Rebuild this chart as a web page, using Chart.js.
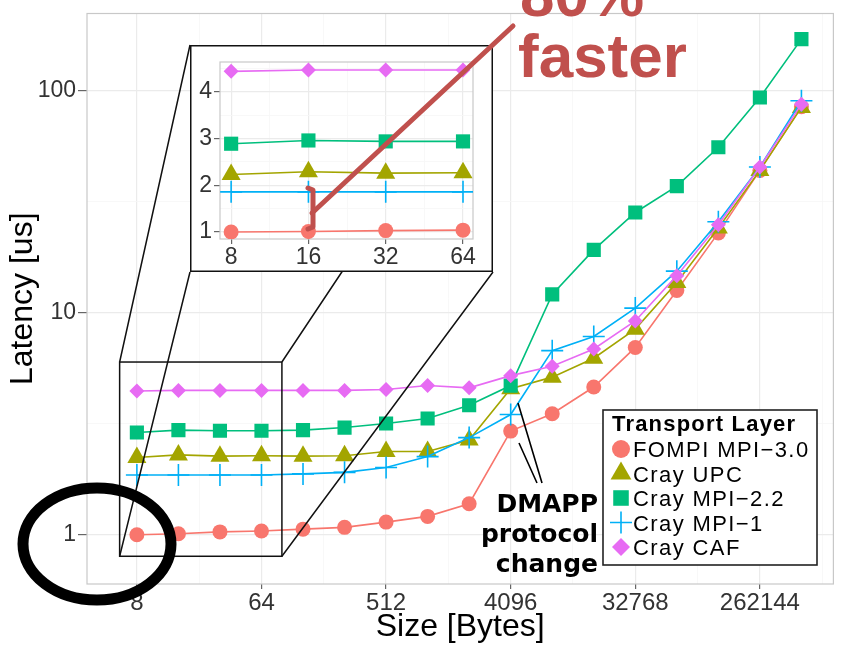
<!DOCTYPE html>
<html>
<head>
<meta charset="utf-8">
<script src="https://cdn.jsdelivr.net/npm/chart.js@4.4.1/dist/chart.umd.min.js"></script>
<style>
  html, body { margin: 0; padding: 0; background: #fff; }
  #wrap { position: relative; width: 846px; height: 650px; overflow: hidden; }
  #wrap canvas { position: absolute; }
  #main { left: 0; top: 0; }
  #inset { left: 190px; top: 45px; }
  #overlay { left: 0; top: 0; pointer-events: none; }
</style>
</head>
<body>
<div id="wrap">
  <canvas id="main" width="846" height="650"></canvas>
  <canvas id="inset" width="303" height="227"></canvas>
  <canvas id="overlay" width="846" height="650"></canvas>
</div>
<script>
// ---- data ----
const sizes = [8, 16, 32, 64, 128, 256, 512, 1024, 2048, 4096, 8192, 16384, 32768, 65536, 131072, 262144, 524288];

const fompi = [1.00, 1.01, 1.03, 1.04, 1.06, 1.08, 1.14, 1.21, 1.38, 2.93, 3.51, 4.63, 6.98, 12.6, 22.9, 43.8, 84.7];
const upc   = [2.23, 2.29, 2.26, 2.27, 2.26, 2.27, 2.37, 2.37, 2.67, 4.55, 5.13, 6.24, 8.44, 13.7, 24.1, 43.8, 84.2];
const mpi22 = [2.89, 2.96, 2.94, 2.94, 2.96, 3.04, 3.17, 3.34, 3.83, 4.70, 12.1, 19.2, 28.3, 37.2, 55.7, 93.3, 171];
const mpi1  = [1.86, 1.86, 1.86, 1.86, 1.88, 1.91, 2.01, 2.25, 2.74, 3.48, 6.75, 7.82, 10.5, 15.4, 25.7, 45.4, 90.2];
const caf   = [4.44, 4.47, 4.47, 4.47, 4.47, 4.47, 4.51, 4.70, 4.59, 5.21, 5.74, 6.87, 9.19, 14.7, 24.9, 45.4, 87.1];

const seriesNames  = ['FOMPI MPI\u22123.0', 'Cray UPC', 'Cray MPI\u22122.2', 'Cray MPI\u22121', 'Cray CAF'];
const seriesValues = [fompi, upc, mpi22, mpi1, caf];

const xTickLabels = [8, 64, 512, 4096, 32768, 262144];
const xMinorTicks = [22.63, 181.02, 1448.15, 11585.2, 92681.9, 741455];
const yTickLabels = [1, 10, 100];
const yMinorTicks = [3.162, 31.62];

const insetSizes = 4; // first four sizes (8..64)
const insetXTicks = [8, 16, 32, 64];
const insetXMinor = [11.31, 22.63, 45.25];
const insetYTicks = [1, 2, 3, 4];
const insetYMinor = [1.5, 2.5, 3.5, 4.5];

// ---- styles ----
const seriesColors = ['#F8766D', '#A3A500', '#00BF7D', '#00B0F6', '#E76BF3'];
const seriesShapes = ['circle', 'triangle', 'rect', 'cross', 'rectRot'];
const markerSize   = [7.5, 11, 10, 11, 7.5];
const legendSize   = [9, 12, 11, 11, 9];
const FONT = "'Liberation Sans', Arial, Helvetica, sans-serif";

function makeDatasets(n) {
    return seriesNames.map((name, i) => ({
        label: name,
        data: sizes.slice(0, n).map((s, j) => ({ x: s, y: seriesValues[i][j] })),
        borderColor: seriesColors[i],
        backgroundColor: seriesColors[i],
        borderWidth: 1.6,
        pointStyle: seriesShapes[i],
        pointRadius: markerSize[i],
        pointBackgroundColor: seriesColors[i],
        pointBorderColor: seriesColors[i],
        pointBorderWidth: seriesShapes[i] === 'cross' ? 1.6 : 0,
        tension: 0,
        order: 5 - i
    }));
}

function gridOpts(majors, tickLength) {
    return {
        color: c => majors.includes(c.tick && c.tick.value) ? '#ebebeb' : '#f6f6f6',
        lineWidth: c => majors.includes(c.tick && c.tick.value) ? 1.2 : 0.8,
        tickColor: c => majors.includes(c.tick && c.tick.value) ? '#666' : 'rgba(0,0,0,0)',
        tickWidth: 1.2,
        tickLength: tickLength,
        drawTicks: true
    };
}

function tickOpts(majors, size, padding) {
    return {
        autoSkip: false,
        maxRotation: 0,
        minRotation: 0,
        color: '#333',
        padding: padding,
        font: { family: FONT, size: size, lineHeight: 1 },
        callback: v => majors.includes(v) ? String(v) : ''
    };
}

const panelBorder = {
    id: 'panelBorder',
    beforeDatasetsDraw(chart) {
        const { ctx, chartArea: a } = chart;
        ctx.save();
        ctx.strokeStyle = '#c8c8c8';
        ctx.lineWidth = 1.2;
        ctx.strokeRect(a.left, a.top, a.right - a.left, a.bottom - a.top);
        ctx.restore();
    }
};

// zoom box, connector lines and legend on the main chart
const mainExtras = {
    id: 'mainExtras',
    afterDraw(chart) {
        const { ctx, scales: { x, y } } = chart;
        const bx0 = x.getPixelForValue(6), bx1 = x.getPixelForValue(90);
        const by0 = y.getPixelForValue(6.0), by1 = y.getPixelForValue(0.8);
        const ix0 = 190, iy0 = 45, ix1 = 493, iy1 = 272;
        ctx.save();
        ctx.strokeStyle = '#111';
        ctx.lineWidth = 1.5;
        ctx.strokeRect(bx0, by0, bx1 - bx0, by1 - by0);
        ctx.beginPath();
        ctx.moveTo(bx0, by0); ctx.lineTo(ix0, iy0);
        ctx.moveTo(bx0, by1); ctx.lineTo(ix0, iy1);
        ctx.moveTo(bx1, by0); ctx.lineTo(ix1, iy0);
        ctx.moveTo(bx1, by1); ctx.lineTo(ix1, iy1);
        ctx.stroke();

        // legend
        const lx = 603, ly = 410, lw = 214, lh = 155;
        ctx.fillStyle = '#fff';
        ctx.fillRect(lx, ly, lw, lh);
        ctx.strokeStyle = '#222';
        ctx.lineWidth = 1.6;
        ctx.strokeRect(lx, ly, lw, lh);
        ctx.fillStyle = '#000';
        ctx.textAlign = 'left';
        ctx.textBaseline = 'alphabetic';
        ctx.font = 'bold 22px ' + FONT;
        if ('letterSpacing' in ctx) ctx.letterSpacing = '1.2px';
        ctx.fillText('Transport Layer', 612, 431);
        ctx.font = '22px ' + FONT;
        if ('letterSpacing' in ctx) ctx.letterSpacing = '1.4px';
        seriesNames.forEach((name, i) => {
            const base = 457 + i * 24.5;
            ctx.fillStyle = '#000';
            ctx.fillText(name, 633, base);
            ctx.fillStyle = seriesColors[i];
            ctx.strokeStyle = seriesColors[i];
            ctx.lineWidth = 1.6;
            Chart.helpers.drawPoint(ctx, {
                pointStyle: seriesShapes[i],
                radius: legendSize[i],
                rotation: 0,
                borderWidth: seriesShapes[i] === 'cross' ? 1.6 : 0
            }, 621, base - 8);
        });
        if ('letterSpacing' in ctx) ctx.letterSpacing = '0px';
        ctx.restore();
    }
};

const mainChart = new Chart(document.getElementById('main'), {
    type: 'line',
    data: { datasets: makeDatasets(sizes.length) },
    options: {
        responsive: false,
        animation: false,
        devicePixelRatio: 1,
        layout: { padding: { top: 12, right: 8, bottom: 0, left: 0 } },
        plugins: { legend: { display: false }, tooltip: { enabled: false } },
        scales: {
            x: {
                type: 'logarithmic',
                min: 3.48,
                max: 894000,
                afterBuildTicks: s => { s.ticks = xTickLabels.concat(xMinorTicks).sort((a, b) => a - b).map(v => ({ value: v })); },
                afterFit: s => { s.height = 66; },
                grid: gridOpts(xTickLabels, 5),
                border: { display: false },
                ticks: tickOpts(xTickLabels, 24, 2),
                title: { display: true, text: 'Size [Bytes]', color: '#000', font: { family: FONT, size: 32, lineHeight: 1 }, padding: { top: 0, bottom: 7 } }
            },
            y: {
                type: 'logarithmic',
                min: 0.616,
                max: 223,
                afterBuildTicks: s => { s.ticks = yTickLabels.concat(yMinorTicks).sort((a, b) => a - b).map(v => ({ value: v })); },
                afterFit: s => { s.width = 87; },
                grid: gridOpts(yTickLabels, 9),
                border: { display: false },
                ticks: tickOpts(yTickLabels, 23, 2),
                title: { display: true, text: 'Latency [us]', color: '#000', font: { family: FONT, size: 32, lineHeight: 1 }, padding: { top: 7, bottom: 0 } }
            }
        }
    },
    plugins: [panelBorder, mainExtras]
});

// ---- inset (zoom into 8..64 bytes) ----
const insetFrame = {
    id: 'insetFrame',
    beforeDraw(chart) {
        const { ctx, width, height } = chart;
        ctx.save();
        ctx.fillStyle = '#fff';
        ctx.fillRect(0, 0, width, height);
        ctx.restore();
    },
    afterDraw(chart) {
        const { ctx, width, height } = chart;
        ctx.save();
        ctx.strokeStyle = '#111';
        ctx.lineWidth = 1.5;
        ctx.strokeRect(0.75, 0.75, width - 1.5, height - 1.5);
        ctx.restore();
    }
};

const insetChart = new Chart(document.getElementById('inset'), {
    type: 'line',
    data: { datasets: makeDatasets(insetSizes) },
    options: {
        responsive: false,
        animation: false,
        devicePixelRatio: 1,
        layout: { padding: { top: 17, right: 20, bottom: 0, left: 0 } },
        plugins: { legend: { display: false }, tooltip: { enabled: false } },
        scales: {
            x: {
                type: 'logarithmic',
                min: 7.24,
                max: 70.0,
                afterBuildTicks: s => { s.ticks = insetXTicks.concat(insetXMinor).sort((a, b) => a - b).map(v => ({ value: v })); },
                afterFit: s => { s.height = 33; },
                grid: gridOpts(insetXTicks, 5),
                border: { display: false },
                ticks: tickOpts(insetXTicks, 23, 2)
            },
            y: {
                type: 'linear',
                min: 0.85,
                max: 4.64,
                afterBuildTicks: s => { s.ticks = insetYTicks.concat(insetYMinor).sort((a, b) => a - b).map(v => ({ value: v })); },
                afterFit: s => { s.width = 30; },
                grid: gridOpts(insetYTicks, 6),
                border: { display: false },
                ticks: tickOpts(insetYTicks, 23, 2)
            }
        }
    },
    plugins: [insetFrame, panelBorder]
});

// ---- annotations on top ----
(function drawOverlay() {
    const ctx = document.getElementById('overlay').getContext('2d');
    const red = '#c0504d';

    // "80% faster" callout
    ctx.strokeStyle = red;
    ctx.lineWidth = 5;
    ctx.lineCap = 'round';
    ctx.lineJoin = 'round';
    ctx.beginPath();
    ctx.moveTo(513, 26);
    ctx.lineTo(312, 213);
    ctx.stroke();
    ctx.beginPath();
    ctx.moveTo(308, 188);
    ctx.lineTo(313, 190);
    ctx.lineTo(313, 227);
    ctx.lineTo(308, 229);
    ctx.stroke();

    ctx.fillStyle = red;
    ctx.font = 'bold 62px ' + FONT;
    ctx.textAlign = 'left';
    ctx.textBaseline = 'alphabetic';
    ctx.fillText('80%', 520, 16);
    ctx.fillText('faster', 518, 77);

    // circled y=1
    ctx.strokeStyle = '#000';
    ctx.lineWidth = 11;
    ctx.beginPath();
    ctx.ellipse(97, 544, 74, 56, 0, 0, Math.PI * 2);
    ctx.stroke();

    // DMAPP protocol change
    ctx.lineWidth = 1.6;
    ctx.lineCap = 'butt';
    ctx.beginPath();
    ctx.moveTo(518, 403); ctx.lineTo(542, 483);
    ctx.moveTo(519, 443); ctx.lineTo(537, 483);
    ctx.stroke();
    ctx.fillStyle = '#000';
    ctx.font = "bold 25px 'DejaVu Sans', sans-serif";
    ctx.textAlign = 'right';
    ctx.fillText('DMAPP', 598, 512);
    ctx.fillText('protocol', 598, 542);
    ctx.fillText('change', 598, 572);
})();
</script>
</body>
</html>
